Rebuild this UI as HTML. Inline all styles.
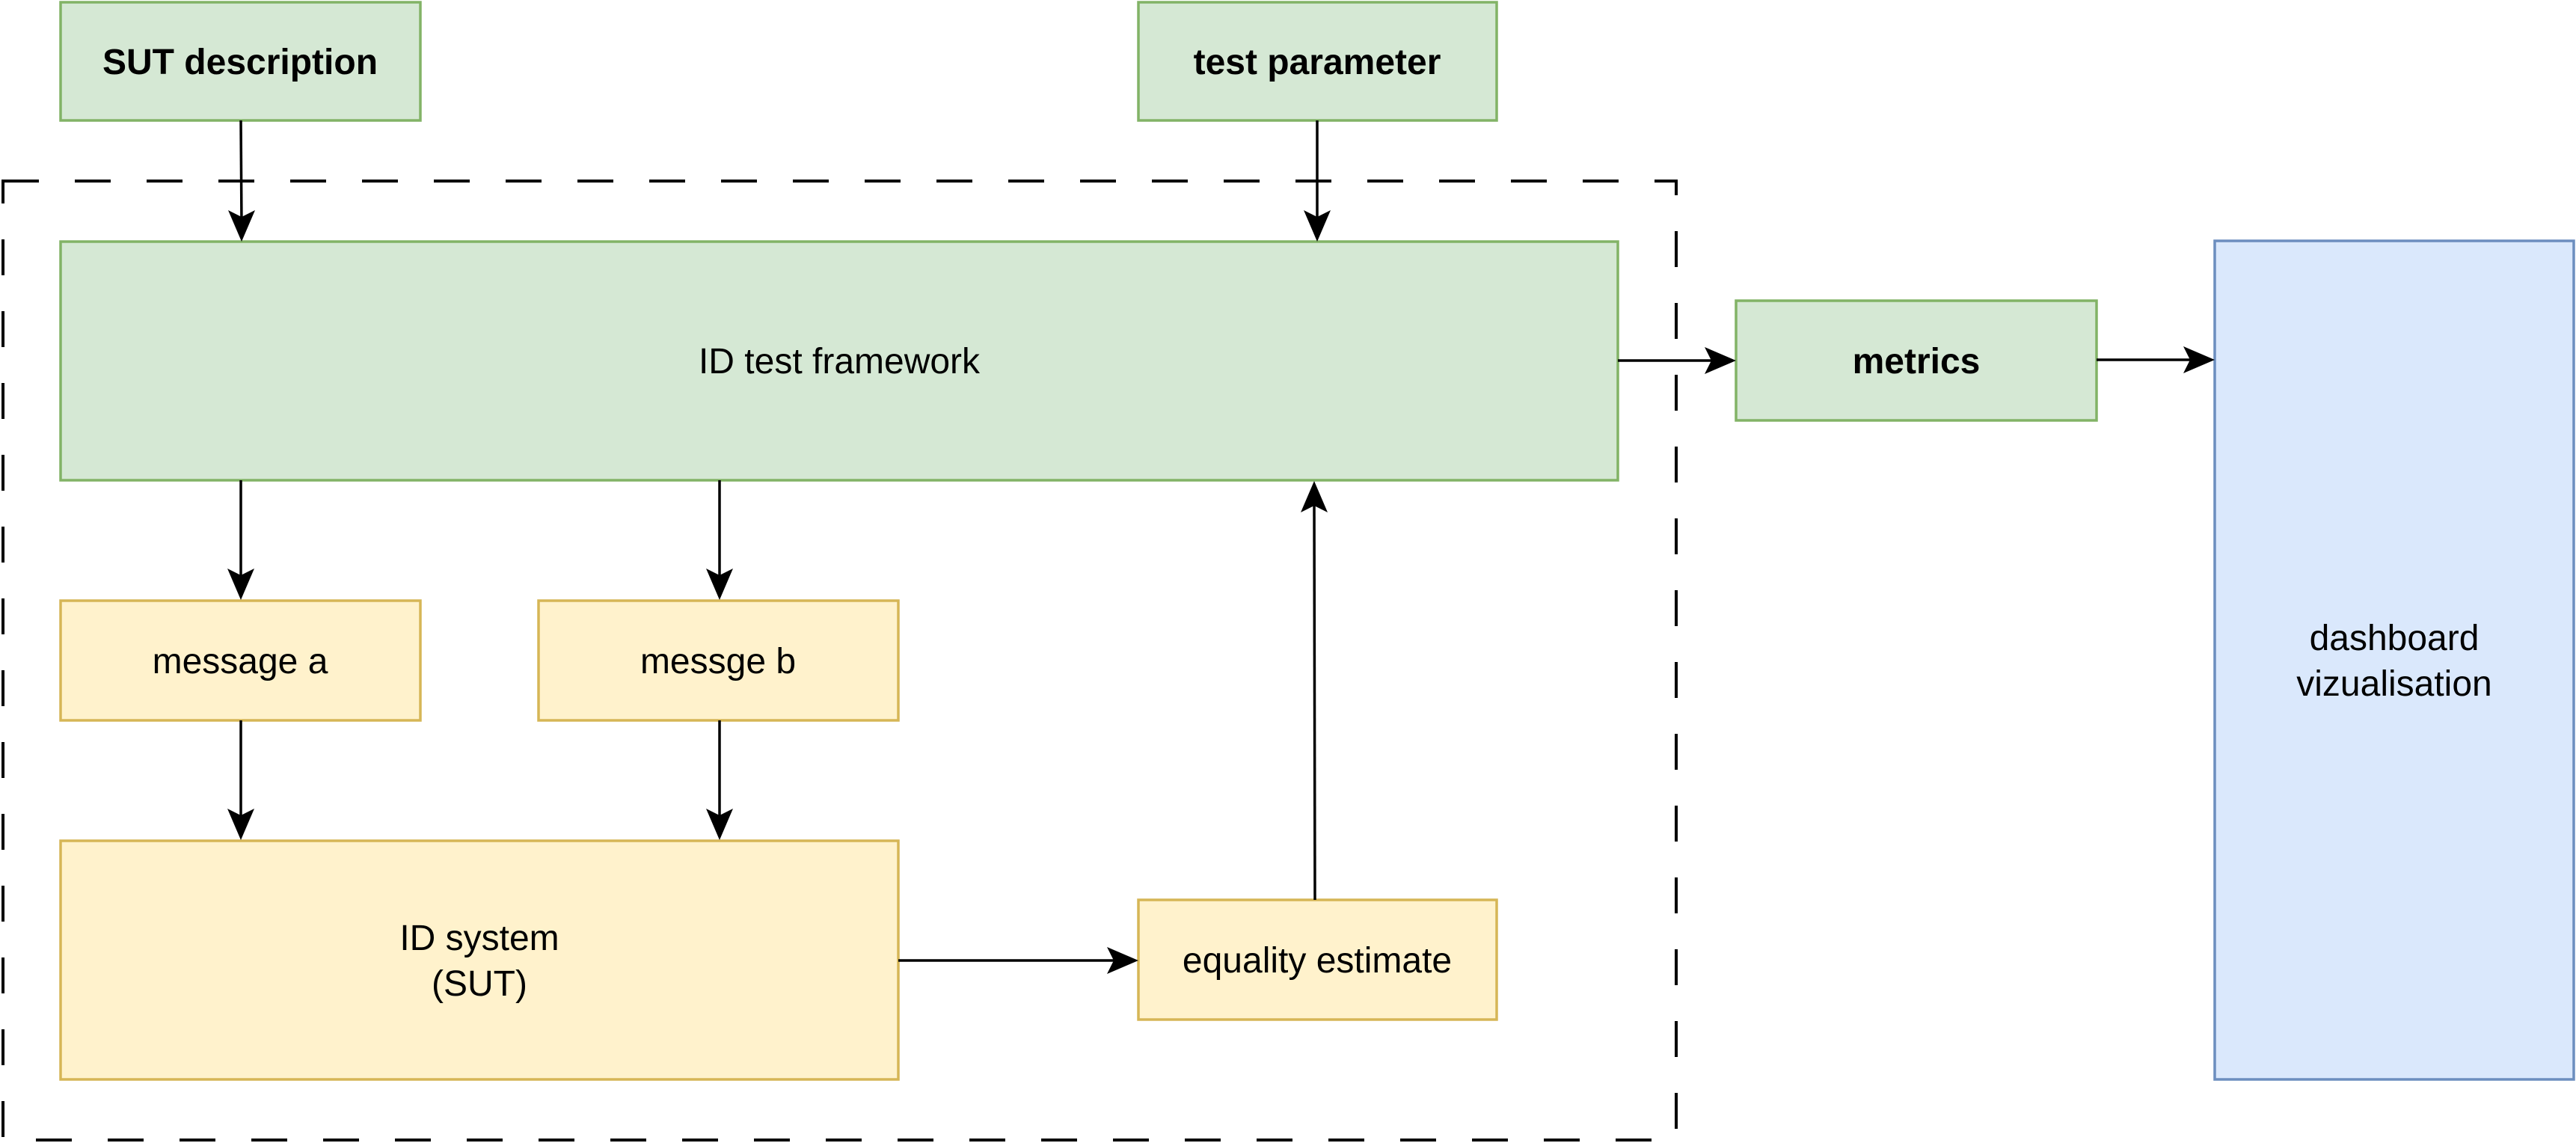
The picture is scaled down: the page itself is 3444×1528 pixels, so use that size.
<!DOCTYPE html>
<html><head><meta charset="utf-8"><style>
html,body{margin:0;padding:0;background:#fff;}
svg{display:block;}
text{font-family:"Liberation Sans",Arial,sans-serif;font-size:48px;fill:#000;}
.b{font-weight:bold;}
</style></head><body>
<svg width="3444" height="1528" viewBox="0 0 3444 1528" xmlns="http://www.w3.org/2000/svg">
<rect x="4" y="242" width="2237" height="1282" fill="none" stroke="#000" stroke-width="4" stroke-dasharray="48 48"/>
<g stroke-width="3.5">
<rect x="81" y="3" width="481" height="158" fill="#d5e8d4" stroke="#82b366"/>
<rect x="1522" y="3" width="479" height="158" fill="#d5e8d4" stroke="#82b366"/>
<rect x="81" y="323" width="2082" height="319" fill="#d5e8d4" stroke="#82b366"/>
<rect x="2321" y="402" width="482" height="160" fill="#d5e8d4" stroke="#82b366"/>
<rect x="2961" y="322" width="480" height="1121" fill="#dae8fc" stroke="#6c8ebf"/>
<rect x="81" y="803" width="481" height="160" fill="#fff2cc" stroke="#d6b656"/>
<rect x="720" y="803" width="481" height="160" fill="#fff2cc" stroke="#d6b656"/>
<rect x="81" y="1124" width="1120" height="319" fill="#fff2cc" stroke="#d6b656"/>
<rect x="1522" y="1203" width="479" height="160" fill="#fff2cc" stroke="#d6b656"/>
</g>
<g stroke="#000" stroke-width="3.5" fill="none">
<line x1="322" y1="161" x2="323" y2="300"/>
<line x1="1761" y1="161" x2="1761" y2="300"/>
<line x1="322" y1="642" x2="322" y2="781"/>
<line x1="962" y1="642" x2="962" y2="781"/>
<line x1="322" y1="963" x2="322" y2="1102"/>
<line x1="962" y1="963" x2="962" y2="1102"/>
<line x1="1201" y1="1284" x2="1500" y2="1284"/>
<line x1="1758" y1="1203" x2="1757" y2="664"/>
<line x1="2163" y1="482" x2="2299" y2="482"/>
<line x1="2803" y1="481" x2="2939" y2="481"/>
</g>
<g fill="#000">
<polygon points="305,281 323,323 341,281 323,290"/>
<polygon points="1743,281 1761,323 1779,281 1761,290"/>
<polygon points="304,760 322,802 340,760 322,769"/>
<polygon points="944,760 962,802 980,760 962,769"/>
<polygon points="304,1081 322,1123 340,1081 322,1090"/>
<polygon points="944,1081 962,1123 980,1081 962,1090"/>
<polygon points="1480,1266 1522,1284 1480,1302 1489,1284"/>
<polygon points="1739,685 1757,643 1775,685 1757,676"/>
<polygon points="2279,464 2321,482 2279,500 2288,482"/>
<polygon points="2919,463 2961,481 2919,499 2928,481"/>
</g>
<g text-anchor="middle">
<text class="b" x="321" y="99">SUT description</text>
<text class="b" x="1761" y="99">test parameter</text>
<text x="1122" y="499">ID test framework</text>
<text class="b" x="2562" y="499">metrics</text>
<text x="3201" y="869">dashboard</text>
<text x="3201" y="930">vizualisation</text>
<text x="321" y="900">message a</text>
<text x="960" y="900">messge b</text>
<text x="641" y="1270">ID system</text>
<text x="641" y="1331">(SUT)</text>
<text x="1761" y="1300">equality estimate</text>
</g>
</svg>
</body></html>
